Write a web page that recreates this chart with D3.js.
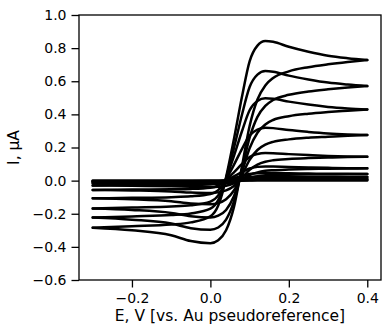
<!DOCTYPE html>
<html>
<head>
<meta charset="utf-8">
<script src="https://cdn.jsdelivr.net/npm/d3@7"></script>
<style>
  html, body { margin: 0; padding: 0; background: #fff; }
  svg { display: block; }
  text { font-family: "DejaVu Sans", sans-serif; fill: #000; }
</style>
</head>
<body>
<svg id="chart" width="383" height="325"></svg>
<script>
// ---- data ----
const potentialFwd = [-0.3, -0.2, -0.1, -0.05, 0, 0.02, 0.03, 0.04, 0.06, 0.08, 0.1, 0.12, 0.14, 0.16, 0.2, 0.25, 0.3, 0.35, 0.4];
const potentialRev = [0.4, 0.35, 0.3, 0.25, 0.2, 0.16, 0.14, 0.12, 0.1, 0.08, 0.06, 0.04, 0.02, 0, -0.05, -0.1, -0.2, -0.3];

const cvA_fwd = [-0.284, -0.275, -0.265, -0.252, -0.215, -0.15, -0.08, 0.02, 0.25, 0.5, 0.72, 0.815, 0.843, 0.838, 0.808, 0.778, 0.754, 0.739, 0.728];
const cvA_rev = [0.728, 0.716, 0.702, 0.685, 0.66, 0.62, 0.575, 0.49, 0.33, 0.08, -0.16, -0.3, -0.36, -0.378, -0.365, -0.33, -0.3, -0.284];
const cvB_fwd = [-0.223, -0.216, -0.208, -0.198, -0.169, -0.118, -0.063, 0.016, 0.196, 0.393, 0.565, 0.64, 0.662, 0.658, 0.634, 0.611, 0.592, 0.58, 0.571];
const cvB_rev = [0.571, 0.562, 0.551, 0.538, 0.518, 0.487, 0.451, 0.385, 0.259, 0.063, -0.126, -0.236, -0.283, -0.297, -0.287, -0.259, -0.236, -0.223];
const cvC_fwd = [-0.168, -0.162, -0.156, -0.149, -0.127, -0.089, -0.047, 0.012, 0.148, 0.295, 0.425, 0.481, 0.497, 0.494, 0.477, 0.459, 0.445, 0.436, 0.43];
const cvC_rev = [0.43, 0.422, 0.414, 0.404, 0.389, 0.366, 0.339, 0.289, 0.195, 0.047, -0.094, -0.177, -0.212, -0.223, -0.215, -0.195, -0.177, -0.168];
const cvD_fwd = [-0.107, -0.104, -0.1, -0.095, -0.081, -0.057, -0.03, 0.008, 0.095, 0.189, 0.272, 0.308, 0.319, 0.317, 0.305, 0.294, 0.285, 0.279, 0.275];
const cvD_rev = [0.275, 0.271, 0.265, 0.259, 0.249, 0.234, 0.217, 0.185, 0.125, 0.03, -0.06, -0.113, -0.136, -0.143, -0.138, -0.125, -0.113, -0.107];
const cvE_fwd = [-0.056, -0.054, -0.052, -0.05, -0.043, -0.03, -0.016, 0.004, 0.05, 0.099, 0.143, 0.161, 0.167, 0.166, 0.16, 0.154, 0.149, 0.146, 0.144];
const cvE_rev = [0.144, 0.142, 0.139, 0.136, 0.131, 0.123, 0.114, 0.097, 0.065, 0.016, -0.032, -0.059, -0.071, -0.075, -0.072, -0.065, -0.059, -0.056];
const cvF_fwd = [-0.029, -0.028, -0.027, -0.026, -0.022, -0.015, -0.008, 0.002, 0.026, 0.051, 0.073, 0.083, 0.086, 0.085, 0.082, 0.079, 0.077, 0.075, 0.074];
const cvF_rev = [0.074, 0.073, 0.072, 0.07, 0.067, 0.063, 0.059, 0.05, 0.034, 0.008, -0.016, -0.031, -0.037, -0.039, -0.037, -0.034, -0.031, -0.029];
const cvG_fwd = [-0.016, -0.015, -0.015, -0.014, -0.012, -0.008, -0.004, 0.001, 0.014, 0.028, 0.04, 0.045, 0.046, 0.046, 0.044, 0.043, 0.041, 0.041, 0.04];
const cvG_rev = [0.04, 0.039, 0.039, 0.038, 0.036, 0.034, 0.032, 0.027, 0.018, 0.004, -0.009, -0.017, -0.02, -0.021, -0.02, -0.018, -0.017, -0.016];
const cvH_fwd = [-0.009, -0.008, -0.008, -0.008, -0.006, -0.005, -0.002, 0.001, 0.008, 0.015, 0.022, 0.024, 0.025, 0.025, 0.024, 0.023, 0.023, 0.022, 0.022];
const cvH_rev = [0.022, 0.021, 0.021, 0.021, 0.02, 0.019, 0.017, 0.015, 0.01, 0.002, -0.005, -0.009, -0.011, -0.011, -0.011, -0.01, -0.009, -0.009];
const cvI_fwd = [-0.004, -0.004, -0.004, -0.004, -0.003, -0.002, -0.001, 0.0, 0.004, 0.007, 0.01, 0.011, 0.012, 0.012, 0.011, 0.011, 0.011, 0.01, 0.01];
const cvI_rev = [0.01, 0.01, 0.01, 0.01, 0.009, 0.009, 0.008, 0.007, 0.005, 0.001, -0.002, -0.004, -0.005, -0.005, -0.005, -0.005, -0.004, -0.004];
const cvJ_fwd = [-0.001, -0.001, -0.001, -0.001, -0.001, -0.001, 0.0, 0.0, 0.001, 0.002, 0.003, 0.003, 0.003, 0.003, 0.003, 0.003, 0.003, 0.003, 0.003];
const cvJ_rev = [0.003, 0.003, 0.003, 0.003, 0.003, 0.003, 0.002, 0.002, 0.001, 0.0, -0.001, -0.001, -0.001, -0.001, -0.001, -0.001, -0.001, -0.001];

const xTicks = [-0.2, 0.0, 0.2, 0.4];
const yTicks = [-0.6, -0.4, -0.2, 0.0, 0.2, 0.4, 0.6, 0.8, 1.0];
const xLabel = "E, V [vs. Au pseudoreference]";
const yLabel = "I, μA";

// ---- build series ----
const forwardSets = [cvA_fwd, cvB_fwd, cvC_fwd, cvD_fwd, cvE_fwd, cvF_fwd, cvG_fwd, cvH_fwd, cvI_fwd, cvJ_fwd];
const reverseSets = [cvA_rev, cvB_rev, cvC_rev, cvD_rev, cvE_rev, cvF_rev, cvG_rev, cvH_rev, cvI_rev, cvJ_rev];
const branches = [];
forwardSets.forEach(vals => branches.push(potentialFwd.map((e, i) => ({e, i: vals[i]}))));
reverseSets.forEach(vals => branches.push(potentialRev.map((e, i) => ({e, i: vals[i]})).sort((a, b) => a.e - b.e)));

// ---- layout ----
const svg = d3.select("#chart");
const m = {left: 79, right: 2, top: 15, bottom: 45};
const W = 383, H = 325;
const x = d3.scaleLinear().domain([-0.335, 0.435]).range([m.left, W - m.right]);
const y = d3.scaleLinear().domain([-0.6, 1.0]).range([H - m.bottom, m.top]);

const line = d3.line().x(d => x(d.e)).y(d => y(d.i)).curve(d3.curveMonotoneX);

const plot = svg.append("g");
plot.selectAll("path.cv").data(branches).join("path")
  .attr("class", "cv")
  .attr("d", line)
  .attr("fill", "none")
  .attr("stroke", "#000")
  .attr("stroke-width", 2.5)
  .attr("stroke-linecap", "round")
  .attr("stroke-linejoin", "round");

// frame
svg.append("rect")
  .attr("x", m.left).attr("y", m.top)
  .attr("width", W - m.right - m.left).attr("height", H - m.bottom - m.top)
  .attr("fill", "none").attr("stroke", "#000").attr("stroke-width", 1.3);

const fmt = d3.format(".1f");
const xAxis = svg.append("g")
  .attr("transform", `translate(0,${H - m.bottom})`)
  .call(d3.axisBottom(x).tickValues(xTicks).tickFormat(fmt).tickSize(7.5).tickPadding(6).tickSizeOuter(0));
const yAxis = svg.append("g")
  .attr("transform", `translate(${m.left},0)`)
  .call(d3.axisLeft(y).tickValues(yTicks).tickFormat(fmt).tickSize(7.5).tickPadding(5).tickSizeOuter(0));

[xAxis, yAxis].forEach(g => {
  g.select(".domain").remove();
  g.selectAll(".tick line").attr("stroke", "#000").attr("stroke-width", 1.3);
  g.selectAll(".tick text").attr("font-size", 14).attr("font-family", "DejaVu Sans, sans-serif").attr("fill", "#000");
});

svg.append("text")
  .attr("x", (m.left + W - m.right) / 2)
  .attr("y", 320.5)
  .attr("text-anchor", "middle")
  .attr("font-size", 15.5)
  .text(xLabel);

svg.append("text")
  .attr("transform", `translate(19,${(m.top + H - m.bottom) / 2}) rotate(-90)`)
  .attr("text-anchor", "middle")
  .attr("font-size", 15.5)
  .text(yLabel);
</script>
</body>
</html>
